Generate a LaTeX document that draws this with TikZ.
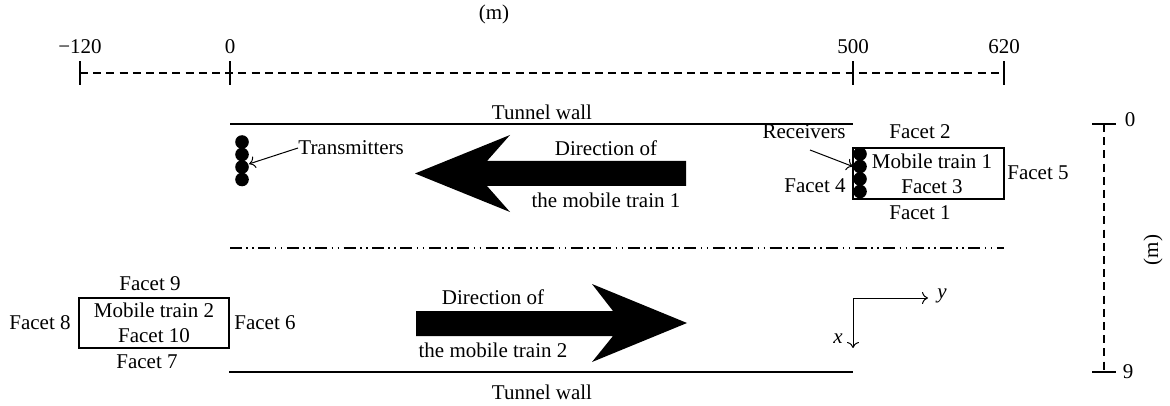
\documentclass[tikz,border=0pt]{standalone}
\usepackage{fontspec}
\setmainfont{Liberation Serif}
\usetikzlibrary{arrows.meta}
\begin{document}
\begin{tikzpicture}[x=0.5pt,y=-0.5pt,
  lbl/.style={inner sep=0pt,font=\fontsize{10.5}{12.5}\selectfont},
  ln/.style={line width=0.6pt},
  dot/.style={circle,fill=black,inner sep=0pt,minimum size=6.8pt},
  ptr/.style={line width=0.5pt,-{To[length=3pt,width=6pt]}},
  bigarrow/.style={fill=black,draw=none}]
\useasboundingbox (0,0) rectangle (1170,406);
% top ruler
\node[lbl] (munit) at (494,14) {(m)};
\coordinate (r1) at (80,73);
\coordinate (r2) at (230,73);
\coordinate (r3) at (853,73);
\coordinate (r4) at (1004,73);
\draw[ln,dash pattern=on 4pt off 2.6pt] (r1) -- (r4);
\foreach \p in {r1,r2,r3,r4} \draw[ln] ([yshift=-12*0.5pt]\p) -- ([yshift=12*0.5pt]\p);
\node[lbl] (t1) at (80,47) {−120};
\node[lbl] (t2) at (230,47) {0};
\node[lbl] (t3) at (853,47) {500};
\node[lbl] (t4) at (1004,47) {620};
% tunnel walls
\coordinate (w1a) at (230,124);
\coordinate (w1b) at (853,124);
\draw[ln] (w1a) -- (w1b);
\node[lbl] (tw1) at (542,112) {Tunnel wall};
\coordinate (w2a) at (229,372);
\coordinate (w2b) at (853,372);
\draw[ln] (w2a) -- (w2b);
\node[lbl] (tw2) at (542,392) {Tunnel wall};
% centre line
\coordinate (c1) at (230,248);
\coordinate (c2) at (1004,248);
\draw[line width=0.6pt,dash pattern=on 6pt off 2.2pt on 0.8pt off 2.2pt on 0.8pt off 2.2pt] (c1) -- (c2);
% transmitters
\foreach \i/\yy in {1/142,2/154.5,3/167,4/179.5} \node[dot] (tx\i) at (242,\yy) {};
\node[lbl,anchor=west] (txl) at (298,148) {Transmitters};
\draw[ptr] (txl.west) -- ([xshift=1pt,yshift=-1pt]tx3.north east);
% big arrow 1
\fill[bigarrow] (415,173.5) -- (510,135) -- (487,161) -- (686,161) -- (686,186) -- (487,186) -- (510,212) -- cycle;
\node[lbl] (d1a) at (606,148) {Direction of};
\node[lbl] (d1b) at (606,200) {the mobile train 1};
% train 1
\node[draw,ln,minimum width=151*0.5pt,minimum height=51*0.5pt,inner sep=0pt] (tr1) at (928.5,173.5) {};
\node[lbl,align=center] (tr1t) at (932,174) {Mobile train 1\\Facet 3};
\foreach \i/\yy in {1/154,2/166.5,3/179,4/191.5} \node[dot] (rx\i) at (860,\yy) {};
\node[lbl] (f2) at (920,132) {Facet 2};
\node[lbl] (f1) at (920,213) {Facet 1};
\node[lbl] (f4) at (815,186) {Facet 4};
\node[lbl] (f5) at (1038,173) {Facet 5};
\node[lbl] (rxl) at (804,132) {Receivers};
\coordinate (rxs) at (810,150);
\draw[ptr] (rxs) -- (rx2.west);
% big arrow 2
\fill[bigarrow] (687,323) -- (592,362) -- (613,336) -- (416,336) -- (416,311) -- (613,311) -- (592,284) -- cycle;
\node[lbl] (d2a) at (493,297) {Direction of};
\node[lbl] (d2b) at (493,350) {the mobile train 2};
% train 2
\node[draw,ln,minimum width=150*0.5pt,minimum height=50*0.5pt,inner sep=0pt] (tr2) at (154,323) {};
\node[lbl,align=center] (tr2t) at (154,323) {Mobile train 2\\Facet 10};
\node[lbl] (f9) at (150,284) {Facet 9};
\node[lbl] (f7) at (147,362) {Facet 7};
\node[lbl] (f8) at (40,323) {Facet 8};
\node[lbl] (f6) at (265,323) {Facet 6};
% axes
\coordinate (o) at (853,298);
\coordinate (ya) at (928,298);
\coordinate (xa) at (853,348);
\draw[ptr] (o) -- (ya);
\draw[ptr] (o) -- (xa);
\node[lbl] (yl) at (942,296) {\textit{y}};
\node[lbl] (xl) at (838,339) {\textit{x}};
% right scale
\coordinate (s1) at (1104,124);
\coordinate (s2) at (1104,372);
\draw[ln,dash pattern=on 4pt off 2.6pt] (s1) -- (s2);
\draw[ln] ([xshift=-12*0.5pt]s1) -- ([xshift=12*0.5pt]s1);
\draw[ln] ([xshift=-12*0.5pt]s2) -- ([xshift=12*0.5pt]s2);
\node[lbl] (s0l) at (1130,120) {0};
\node[lbl] (s9l) at (1128,372) {9};
\node[lbl,rotate=90] (sml) at (1153,250) {(m)};
\end{tikzpicture}
\end{document}
